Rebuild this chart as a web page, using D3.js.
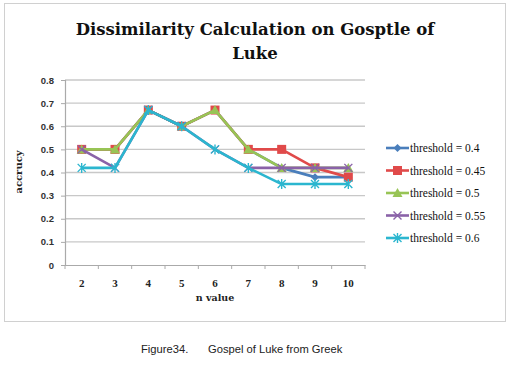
<!DOCTYPE html>
<html><head><meta charset="utf-8">
<script src="https://cdn.jsdelivr.net/npm/d3@7"></script>
<style>body{margin:0;background:#fff}svg{display:block}</style>
</head><body>
<svg id="c" width="514" height="367"></svg>
<script>
const categories = ["2","3","4","5","6","7","8","9","10"];
const seriesNames = ["threshold = 0.4","threshold = 0.45","threshold = 0.5","threshold = 0.55","threshold = 0.6"];
const s04  = [0.5,0.5,0.67,0.6,0.67,0.5,0.42,0.38,0.38];
const s045 = [0.5,0.5,0.67,0.6,0.67,0.5,0.5,0.42,0.38];
const s05  = [0.5,0.5,0.67,0.6,0.67,0.5,0.42,0.42,0.42];
const s055 = [0.5,0.42,0.67,0.6,0.5,0.42,0.42,0.42,0.42];
const s06  = [0.42,0.42,0.67,0.6,0.5,0.42,0.35,0.35,0.35];
const yTicks = [0,0.1,0.2,0.3,0.4,0.5,0.6,0.7,0.8];
const colors = ["#4a7ebb","#e04a4a","#98c455","#8a62a8","#2bb6cf"];
const markers = ["diamond","square","triangle","x","star"];
const allSeries = [s04,s045,s05,s055,s06];

const svg = d3.select("#c");
svg.append("rect").attr("x",4.5).attr("y",3.5).attr("width",501).attr("height",318)
  .attr("fill","#fff").attr("stroke","#d0d0d0");

const L=65,R=365,T=80,B=265;
const x = d3.scaleBand().domain(categories).range([L,R]);
const y = d3.scaleLinear().domain([0,0.8]).range([B,T]);

// gridlines
svg.append("g").selectAll("line").data(yTicks.slice(1)).join("line")
  .attr("x1",L).attr("x2",R).attr("y1",d=>y(d)).attr("y2",d=>y(d))
  .attr("stroke","#c8c8c8").attr("stroke-width",1.3);

// y axis
const ya = svg.append("g").attr("transform",`translate(${L},0)`)
  .call(d3.axisLeft(y).tickValues(yTicks).tickFormat(d=>d===0?"0":d3.format(".1f")(d)).tickSize(4).tickPadding(7));
ya.select(".domain").attr("stroke","#aaa").attr("stroke-width",1.2);
ya.selectAll(".tick line").attr("stroke","#aaa");
ya.selectAll("text").attr("font-family","Liberation Sans, Arial, sans-serif").attr("font-size",9.5).attr("font-weight","bold").attr("fill","#333");

// x axis
const xa = svg.append("g").attr("transform",`translate(0,${B})`)
  .call(d3.axisBottom(x).tickSize(0).tickPadding(14));
xa.select(".domain").attr("stroke","#aaa").attr("stroke-width",1.2);
xa.selectAll("text").attr("font-family","Liberation Serif, serif").attr("font-size",11).attr("font-weight","bold").attr("fill","#222");
svg.append("g").selectAll("line").data(d3.range(categories.length+1)).join("line")
  .attr("x1",i=>L+i*x.step()).attr("x2",i=>L+i*x.step()).attr("y1",B).attr("y2",B+4)
  .attr("stroke","#aaa");

const cx = d=>x(d)+x.bandwidth()/2;

function drawMarker(g, type, color){
  if(type==="diamond") g.append("path").attr("d","M0,-4L4,0L0,4L-4,0Z").attr("fill",color);
  else if(type==="square") g.append("rect").attr("x",-4.5).attr("y",-4.5).attr("width",9).attr("height",9).attr("fill",color);
  else if(type==="triangle") g.append("path").attr("d","M0,-5L5,4L-5,4Z").attr("fill",color);
  else if(type==="x") g.append("path").attr("d","M-4,-4L4,4M-4,4L4,-4").attr("stroke",color).attr("stroke-width",1.4);
  else g.append("path").attr("d","M-4,-4L4,4M-4,4L4,-4M0,-5V5").attr("stroke",color).attr("stroke-width",1.4);
}

const line = d3.line().x((d,i)=>cx(categories[i])).y(d=>y(d));
allSeries.forEach((s,k)=>{
  svg.append("path").datum(s).attr("d",line).attr("fill","none")
    .attr("stroke",colors[k]).attr("stroke-width",2.6).attr("stroke-linejoin","round");
  s.forEach((v,i)=>{
    const g = svg.append("g").attr("transform",`translate(${cx(categories[i])},${y(v)})`);
    drawMarker(g, markers[k], colors[k]);
  });
});

// legend
const lg = svg.append("g");
seriesNames.forEach((n,k)=>{
  const yy = 148 + k*22.5;
  lg.append("line").attr("x1",386).attr("x2",409).attr("y1",yy).attr("y2",yy).attr("stroke",colors[k]).attr("stroke-width",2.6);
  drawMarker(lg.append("g").attr("transform",`translate(397.5,${yy})`), markers[k], colors[k]);
  lg.append("text").attr("x",410).attr("y",yy+4).text(n)
    .attr("font-family","Liberation Serif, serif").attr("font-size",11.5).attr("fill","#111");
});

// titles
const title = svg.append("text").attr("text-anchor","middle").attr("font-family","DejaVu Serif, serif")
  .attr("font-weight","bold").attr("font-size",16.5).attr("fill","#111");
title.append("tspan").attr("x",255).attr("y",35).text("Dissimilarity Calculation on Gosptle of");
title.append("tspan").attr("x",255).attr("y",59).text("Luke");

svg.append("text").attr("transform","translate(22,172) rotate(-90)").attr("text-anchor","middle")
  .attr("font-family","DejaVu Serif, serif").attr("font-weight","bold").attr("font-size",10).attr("fill","#222").text("accrucy");
svg.append("text").attr("x",215).attr("y",301).attr("text-anchor","middle")
  .attr("font-family","DejaVu Serif, serif").attr("font-weight","bold").attr("font-size",9.5).attr("fill","#222").text("n value");

const capFont = "Liberation Sans, Arial, sans-serif";
svg.append("text").attr("x",141).attr("y",353).attr("font-family",capFont)
  .attr("font-size",11.2).attr("fill","#222").text("Figure34.");
svg.append("text").attr("x",208).attr("y",353).attr("font-family",capFont)
  .attr("font-size",11.2).attr("fill","#222").text("Gospel of Luke from Greek");
</script>
</body></html>
